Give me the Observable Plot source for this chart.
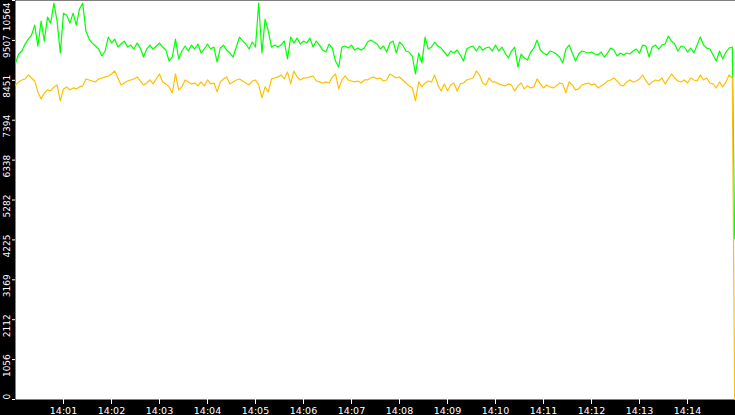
<!DOCTYPE html>
<html><head><meta charset="utf-8">
<script src="https://cdn.jsdelivr.net/npm/d3@7"></script>
<script src="https://cdn.jsdelivr.net/npm/@observablehq/plot@0.6"></script>
<style>
html,body{margin:0;padding:0;background:#000;overflow:hidden;}
svg{display:block;}
</style></head><body><div id="chart"></div>
<script>
// samples every 4 s from 14:00:00; last sample at 14:14:59
const greenValues = [
8909,9146,9226,9410,9542,9648,9912,9358,10018,9490,
10123,9965,10493,10018,9173,10229,10176,9965,10229,9912,
10335,10493,9754,9543,9437,9358,9279,9094,9226,9596,
9437,9543,9332,9411,9490,9332,9384,9279,
9437,9305,9068,9279,9384,9279,9358,9437,9332,9252,
8962,9068,9543,9015,9226,9358,9226,9384,9279,9411,
9173,9279,9411,9279,9332,8935,9305,9384,9252,9173,
9068,9332,9596,9490,9411,9279,9464,
9332,10493,9173,10071,9754,9332,9384,9332,9384,9490,
9015,9596,9437,9569,9411,9490,9437,9569,9332,9490,
9384,9252,9200,9411,9305,8962,8803,9332,9358,9305,
9384,9252,9305,9252,9305,9464,9516,9464,
9411,9279,9358,9200,9437,9490,9173,9464,9384,9226,
9200,9094,8618,9173,8909,9596,9279,9332,9464,9358,
9305,9200,9094,9226,9173,9252,9120,8962,9279,9332,
9358,9226,9358,9252,9305,9332,9226,
9384,9226,9332,9173,9041,9226,9332,8803,9147,9041,
8988,9200,9305,9516,9252,9173,9120,9226,9200,9147,
9068,8909,9279,9384,9173,8962,9147,9226,9200,9173,
9200,9147,9120,9200,9068,9173,9305,9252,
9094,9173,9120,9173,9147,9226,9279,9173,9384,9358,
9068,9332,9384,9279,9384,9411,9622,9490,9411,9226,
9358,9332,9200,9305,9173,9384,9596,9384,9305,9279,
9120,8962,9226,9015,9200,9305,9332,
4260
];
const orangeValues = [
8328,8408,8460,8487,8592,8513,8434,8144,7959,8117,
8196,8170,8276,8328,7906,8223,8276,8196,8249,8223,
8276,8302,8487,8460,8434,8408,8487,8513,8540,8566,
8619,8698,8513,8328,8381,8434,8460,8487,
8540,8434,8328,8381,8460,8355,8487,8619,8408,8355,
8276,8117,8619,8196,8276,8460,8408,8355,8381,8302,
8408,8302,8460,8355,8381,8144,8408,8487,8540,8355,
8408,8460,8487,8434,8381,8328,8434,
8460,8328,7985,8276,8144,8487,8513,8540,8592,8487,
8672,8355,8698,8540,8460,8513,8513,8540,8566,8434,
8408,8381,8408,8381,8540,8619,8223,8460,8566,8460,
8434,8408,8434,8381,8460,8460,8513,8540,
8487,8513,8434,8460,8619,8566,8513,8540,8460,8381,
8302,8249,7906,8408,8276,8381,8434,8408,8592,8328,
8170,8355,8170,8328,8381,8170,8355,8381,8460,8487,
8513,8698,8592,8381,8328,8513,8408,
8408,8355,8328,8302,8355,8328,8170,8302,8381,8223,
8302,8249,8276,8487,8355,8249,8328,8276,8249,8302,
8381,8355,8117,8408,8328,8196,8223,8328,8355,8381,
8328,8355,8249,8302,8355,8434,8460,8513,
8434,8328,8302,8408,8460,8408,8434,8487,8592,8434,
8328,8408,8460,8434,8513,8355,8487,8619,8513,8434,
8408,8460,8381,8513,8460,8434,8592,8460,8513,8381,
8355,8249,8408,8276,8408,8592,8513,
0
];
const sampleStepSeconds = 4;
const lastSampleSecond = 899;
const windowSeconds = 900;

const yMax = 10564;
const yTickValues = [0,1056.4,2112.8,3169.2,4225.6,5282,6338.4,7394.8,8451.2,9507.6,10564];
const yTickLabels = ["0","1056","2112","3169","4225","5282","6338","7394","8451","9507","10564"];
const xTickSeconds = [60,120,180,240,300,360,420,480,540,600,660,720,780,840];
const xTickLabels = ["14:01","14:02","14:03","14:04","14:05","14:06","14:07","14:08","14:09","14:10","14:11","14:12","14:13","14:14"];

const greenColor = "#00ff00";
const orangeColor = "#ffc000";

function rows(values) {
  return values.map((v, i) => ({t: i === values.length - 1 ? lastSampleSecond : i * sampleStepSeconds, v}));
}
const greenRows = rows(greenValues);
const orangeRows = rows(orangeValues);
const xLabelOf = new Map(xTickSeconds.map((s, i) => [s, xTickLabels[i]]));
const yLabelRows = yTickValues.map((v, i) => ({v, label: yTickLabels[i]}));
const lastIdx = yLabelRows.length - 1;

const chart = Plot.plot({
  width: 735,
  height: 415,
  marginLeft: 15,
  marginRight: 0,
  marginTop: 0,
  marginBottom: 16,
  style: {background: "black", color: "white", fontFamily: "DejaVu Sans", fontSize: "9px"},
  x: {type: "linear", domain: [0, windowSeconds]},
  y: {domain: [0, yMax]},
  marks: [
    Plot.frame({fill: "white", stroke: null}),
    Plot.axisX({ticks: xTickSeconds, tickSize: 5, tickPadding: 3, tickFormat: d => xLabelOf.get(d), anchor: "bottom", label: null, fontSize: 9.5, fill: "white", stroke: "white"}),
    Plot.axisY({ticks: yTickValues, tickSize: 3, tickFormat: () => "", anchor: "left", label: null, stroke: "white"}),
    Plot.text(yLabelRows.filter((d, i) => i > 0 && i < lastIdx), {y: "v", text: "label", frameAnchor: "left", dx: -6, dy: 17.5, rotate: -90, textAnchor: "start", lineAnchor: "bottom", fill: "white"}),
    Plot.text(yLabelRows.filter((d, i) => i === 0), {y: "v", text: "label", frameAnchor: "left", dx: -6, dy: 0, rotate: -90, textAnchor: "start", lineAnchor: "bottom", fill: "white"}),
    Plot.text(yLabelRows.filter((d, i) => i === lastIdx), {y: "v", text: "label", frameAnchor: "left", dx: -6, dy: 2, rotate: -90, textAnchor: "end", lineAnchor: "bottom", fill: "white"}),
    Plot.line(greenRows, {x: "t", y: "v", stroke: greenColor, strokeWidth: 1.2}),
    Plot.line(orangeRows, {x: "t", y: "v", stroke: orangeColor, strokeWidth: 1.2})
  ]
});
document.getElementById("chart").appendChild(chart);
</script>
</body></html>
